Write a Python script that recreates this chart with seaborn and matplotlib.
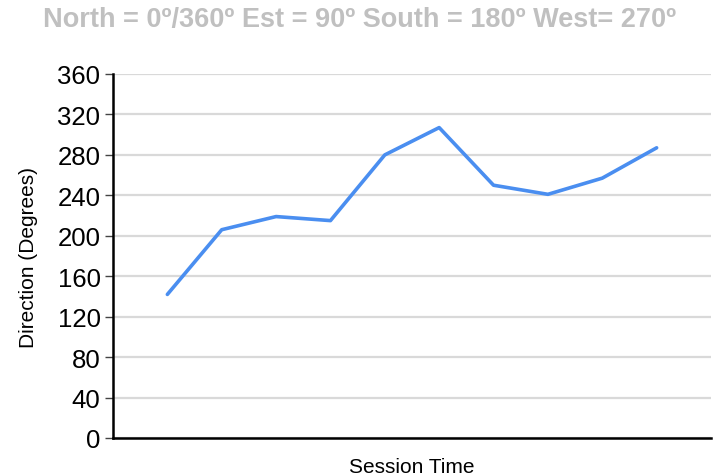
import matplotlib
matplotlib.use('Agg')
import matplotlib.pyplot as plt
import seaborn as sns
import pandas as pd

# Session index and measured direction (degrees)
sessions = [1, 2, 3, 4, 5, 6, 7, 8, 9, 10]
direction = [142, 206, 219, 215, 280, 307, 250, 241, 257, 287]
y_ticks = [0, 40, 80, 120, 160, 200, 240, 280, 320, 360]

df = pd.DataFrame({'session': sessions, 'direction': direction})

sns.set_style('white')
plt.rcParams['font.family'] = ['Liberation Sans', 'DejaVu Sans']
plt.rcParams['text.color'] = 'black'
plt.rcParams['axes.labelcolor'] = 'black'
plt.rcParams['ytick.labelcolor'] = 'black'

fig = plt.figure(figsize=(7.2, 4.77), dpi=100)
ax = fig.add_axes([113 / 720, 1 - 439 / 477, (711 - 113) / 720, (439 - 75) / 477])

ax.yaxis.grid(True, color='#d9d9d9', linewidth=1.6)
ax.set_axisbelow(True)
sns.lineplot(data=df, x='session', y='direction', color='#4a8ef0', linewidth=2.6, ax=ax)

ax.set_xlim(0, 11)
ax.set_ylim(0, 360)
ax.set_yticks(y_ticks)
ax.set_xticks([])
ax.tick_params(axis='y', labelsize=18.5, length=6, width=1, color='#444444', left=True, pad=3)

for side in ['top', 'right']:
    ax.spines[side].set_visible(False)
for side in ['left', 'bottom']:
    ax.spines[side].set_color('black')
    ax.spines[side].set_linewidth(1.8)

ax.set_xlabel('Session Time', fontsize=15, labelpad=14)
ax.set_ylabel('Direction (Degrees)', fontsize=15, labelpad=14)

fig.text(0.5, 1 - 20 / 477, 'North = 0º/360º Est = 90º South = 180º West= 270º',
         ha='center', va='center', fontsize=19.5, fontweight='bold', color='#c0c0c0')

fig.savefig('out.png', dpi=100)
